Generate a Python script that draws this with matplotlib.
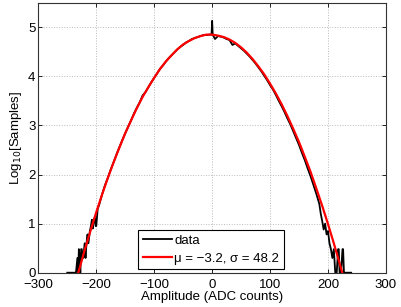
import matplotlib.pyplot as plt
import numpy as np

plt.rcParams['font.family'] = ['Liberation Sans', 'DejaVu Sans']
plt.rcParams['font.size'] = 9.5

# --- data (amplitude in ADC counts, log10 of samples) ---
data_x = [-250, -245, -240, -235, -232.5, -231, -230, -228.5, -227.5, -226,
          -225, -223.5, -222.5, -221, -220, -218.5, -217.5, -216, -215, -213.5,
          -212.5, -211, -210, -208.5, -207.5, -206, -205, -203.5, -202.5, -201,
          -200, -197.5, -195,
          -190, -185, -180, -175, -170, -165, -160, -155, -150, -145,
          -140, -135, -130, -125, -120, -115, -110, -105, -100, -95,
          -90, -85, -80, -75, -70, -65, -60, -55, -50, -45,
          -40, -35, -30, -25, -20, -15, -10, -5, -1, 0,
          1, 5, 10, 15, 20, 25, 30, 35, 40, 45,
          50, 55, 60, 65, 70, 75, 80, 85, 90, 95,
          100, 105, 110, 115, 120, 125, 130, 135, 140, 145,
          150, 155, 160, 165, 170, 175, 180, 182.5, 185, 187.5,
          190, 192.5, 195, 197.5, 200, 202.5, 205, 207.5, 210, 212.5,
          215, 217.5, 218.5, 220, 222.5, 225, 226, 227.5, 230, 235, 240]
data_y = [0, 0, 0, 0, 0.30, 0, 0.48, 0.30, 0, 0.48,
          0.48, 0.30, 0.30, 0.48, 0.60, 0.30, 0.48, 0.70, 0.78, 0.60,
          0.70, 0.85, 0.90, 1.00, 1.08, 0.90, 1.00, 1.10, 1.12, 0.95,
          0.95, 1.30, 1.38,
          1.59, 1.78, 1.93, 2.10, 2.25, 2.41, 2.56, 2.70, 2.84, 2.97,
          3.10, 3.24, 3.36, 3.47, 3.61, 3.68, 3.78, 3.88, 3.97, 4.06,
          4.15, 4.22, 4.30, 4.37, 4.43, 4.49, 4.55, 4.60, 4.64, 4.69,
          4.72, 4.76, 4.78, 4.80, 4.82, 4.84, 4.84, 4.85, 4.85, 5.13,
          4.85, 4.76, 4.82, 4.81, 4.79, 4.76, 4.74, 4.64, 4.67, 4.62,
          4.57, 4.52, 4.46, 4.40, 4.33, 4.26, 4.18, 4.10, 4.01, 3.92,
          3.82, 3.73, 3.62, 3.50, 3.39, 3.27, 3.14, 3.02, 2.88, 2.74,
          2.60, 2.44, 2.29, 2.12, 1.96, 1.78, 1.60, 1.50, 1.40, 1.20,
          1.05, 0.88, 1.00, 0.78, 0.85, 0.60, 0.48, 0.30, 0.48, 0,
          0, 0.48, 0.48, 0, 0, 0.48, 0.48, 0, 0, 0, 0]

# gaussian fit curve as seen on the chart
fit_x = [-232, -230, -220, -210, -200, -190, -180, -170, -160, -150,
         -140, -130, -120, -110, -100, -90, -80, -70, -60, -50,
         -40, -30, -20, -10, 0, 10, 20, 30, 40, 50,
         60, 70, 80, 90, 100, 110, 120, 130, 140, 150,
         160, 170, 180, 190, 200, 210, 220, 225]
fit_y = [-0.04, 0.04, 0.46, 0.85, 1.23, 1.59, 1.93, 2.25, 2.55, 2.84,
         3.10, 3.35, 3.58, 3.78, 3.97, 4.15, 4.30, 4.43, 4.55, 4.65,
         4.72, 4.78, 4.82, 4.85, 4.85, 4.83, 4.80, 4.75, 4.68, 4.59,
         4.48, 4.35, 4.20, 4.04, 3.85, 3.65, 3.43, 3.19, 2.93, 2.66,
         2.36, 2.05, 1.71, 1.36, 0.99, 0.60, 0.19, -0.02]

fig = plt.figure(figsize=(4.01, 3.07), dpi=100)
ax = fig.add_axes([0.0955, 0.1117, 0.867, 0.8795])

ax.plot(data_x, data_y, color='black', linewidth=1.3, label='data')
ax.plot(fit_x, fit_y, color='#ff0000', linewidth=1.6,
        label='\u03bc = \u22123.2, \u03c3 = 48.2')

ax.set_xlim(-300, 300)
ax.set_ylim(0, 5.5)
ax.set_xticks(np.arange(-300, 301, 100))
ax.set_yticks(np.arange(0, 6, 1))
ax.set_xticklabels([str(v).replace('-', '\u2212') for v in range(-300, 301, 100)])

ax.grid(True, color='#bbbbbb', linestyle=':', linewidth=0.7)
ax.tick_params(direction='in', top=True, right=True, length=3, width=0.6,
               labelsize=9.5)
ax.tick_params(axis='x', pad=4.5)
ax.tick_params(axis='y', pad=2)
for s in ax.spines.values():
    s.set_linewidth(0.8)
    s.set_color('#333333')

ax.set_xlabel('Amplitude (ADC counts)', fontsize=9.5, labelpad=0)
ax.set_ylabel('Log$_{10}$[Samples]', fontsize=9.5, labelpad=3)

leg = ax.legend(loc='lower left', bbox_to_anchor=(0.287, 0.012), fontsize=9.5,
                fancybox=False, framealpha=1, edgecolor='black',
                handlelength=2.2, borderpad=0.35, labelspacing=0.45,
                handletextpad=0.2, borderaxespad=0)
leg.get_frame().set_linewidth(0.8)

fig.savefig('out.png', dpi=100)
